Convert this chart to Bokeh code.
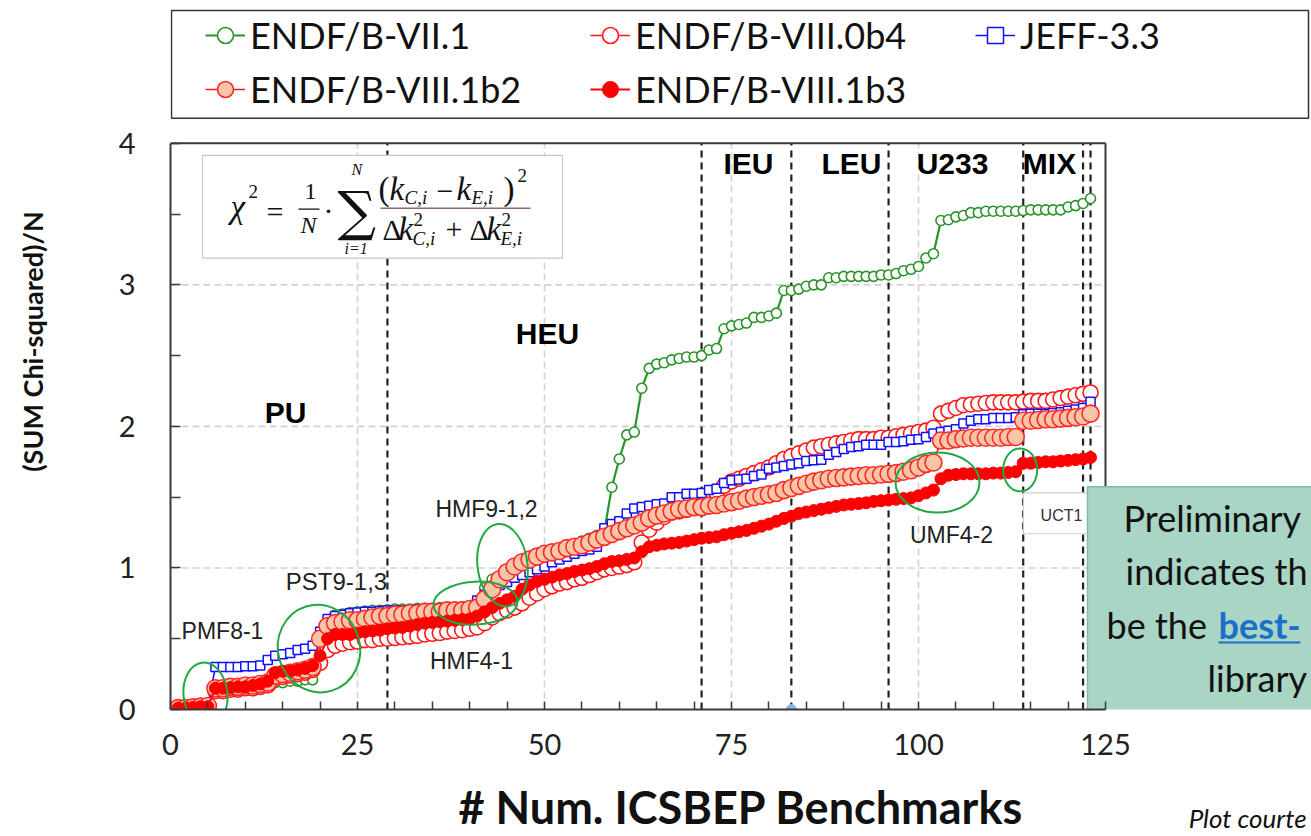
from bokeh.plotting import figure
from bokeh.models import Range1d, FixedTicker, Legend, LegendItem, LinearAxis
from bokeh.core.properties import value
from bokeh.embed import file_html
from bokeh.resources import INLINE

# ---------------- data ----------------
benchmarks = list(range(1, 124))

endf_vii1 = [0.01, 0.01, 0.015, 0.02, 0.02,
             0.14, 0.145, 0.15, 0.15, 0.155, 0.16, 0.165, 0.17,
             0.19, 0.19, 0.20, 0.20, 0.21, 0.21,
             0.40, 0.60,
             0.665, 0.675, 0.685, 0.69, 0.695, 0.70, 0.70, 0.705, 0.71, 0.71, 0.71, 0.715, 0.715, 0.715, 0.72, 0.72, 0.72, 0.725, 0.73, 0.77,
             0.86, 0.92, 0.94,
             0.99, 1.02, 1.04, 1.06, 1.08, 1.10, 1.12, 1.13, 1.15, 1.17, 1.19, 1.21, 1.23, 1.26,
             1.57, 1.77, 1.94, 1.96, 2.27, 2.41,
             2.44, 2.45, 2.47, 2.48, 2.49, 2.49, 2.50, 2.54, 2.55,
             2.69, 2.71, 2.72, 2.73, 2.77, 2.77, 2.78, 2.80,
             2.96, 2.96, 2.97, 2.99, 3.00, 3.00,
             3.05, 3.05, 3.06, 3.06, 3.06, 3.06, 3.06, 3.07, 3.07, 3.08, 3.10, 3.11, 3.13, 3.19, 3.22,
             3.455, 3.46, 3.48, 3.49, 3.51, 3.51, 3.52, 3.52, 3.52, 3.52, 3.52, 3.525, 3.53, 3.53, 3.53, 3.53, 3.53, 3.55, 3.56, 3.575, 3.61]

endf_viii0b4 = [0.01, 0.01, 0.015, 0.02, 0.025,
                0.13, 0.13, 0.14, 0.14, 0.15, 0.15, 0.16, 0.17, 0.22, 0.23, 0.24, 0.25, 0.26, 0.28,
                0.33, 0.42, 0.45, 0.465, 0.475, 0.48,
                0.49, 0.49, 0.50, 0.50, 0.505, 0.51, 0.515, 0.52, 0.53, 0.535, 0.54, 0.55, 0.555, 0.56, 0.57, 0.58,
                0.61, 0.65, 0.68, 0.70, 0.72, 0.75, 0.79, 0.82, 0.85, 0.87, 0.89, 0.90, 0.92, 0.93, 0.95, 0.97, 0.99, 1.00, 1.01, 1.02, 1.04,
                1.18, 1.27, 1.32, 1.36, 1.39, 1.40, 1.41, 1.43, 1.46, 1.50, 1.53, 1.58, 1.61, 1.63, 1.65, 1.67, 1.69, 1.71, 1.74, 1.77, 1.79, 1.81, 1.83, 1.85, 1.86, 1.87, 1.88, 1.89,
                1.90, 1.91, 1.91, 1.91, 1.92, 1.92, 1.93, 1.94, 1.95, 1.96, 1.97, 1.99, 2.09, 2.11, 2.13, 2.15, 2.155, 2.16, 2.165, 2.17, 2.17, 2.17, 2.17, 2.175, 2.18, 2.18, 2.18, 2.19, 2.20, 2.21, 2.22, 2.23, 2.24]

jeff33 = [0.01, 0.01, 0.015, 0.02, 0.025,
          0.30, 0.30, 0.30, 0.30, 0.305, 0.305, 0.31,
          0.35, 0.38, 0.39, 0.40, 0.42, 0.43, 0.45, 0.55,
          0.64, 0.66, 0.67, 0.68, 0.685, 0.69, 0.69, 0.695, 0.70, 0.70, 0.70, 0.70, 0.705, 0.705, 0.705, 0.71, 0.71, 0.71, 0.715, 0.72,
          0.77, 0.81, 0.86, 0.88, 0.90, 0.93, 0.95, 0.97, 0.99, 1.01, 1.04, 1.06, 1.08, 1.10, 1.12, 1.13, 1.15, 1.28,
          1.31, 1.33, 1.385, 1.42, 1.43, 1.44, 1.45, 1.455, 1.50, 1.50, 1.525, 1.525, 1.53, 1.55, 1.56, 1.60, 1.62, 1.625, 1.63, 1.65, 1.66, 1.70, 1.71, 1.72, 1.73, 1.74, 1.755, 1.76, 1.765, 1.80, 1.82, 1.84,
          1.855, 1.86, 1.87, 1.87, 1.87, 1.89, 1.89, 1.895, 1.905, 1.91, 1.925, 1.95, 1.96, 1.97, 1.98, 2.02, 2.04, 2.05, 2.05, 2.06, 2.06, 2.06, 2.065, 2.085, 2.09, 2.09, 2.09, 2.095, 2.10, 2.11, 2.12, 2.13, 2.175]

endf_viii1b2 = [0.01, 0.01, 0.015, 0.02, 0.025,
                0.15, 0.15, 0.16, 0.16, 0.17, 0.17, 0.18, 0.19, 0.24, 0.25, 0.26, 0.27, 0.28, 0.30,
                0.50, 0.59, 0.61, 0.62, 0.63, 0.63, 0.64, 0.65, 0.66, 0.66, 0.67, 0.67, 0.68, 0.68, 0.69, 0.69, 0.69, 0.70, 0.70, 0.70, 0.71, 0.72,
                0.78, 0.85, 0.92, 0.97, 1.01, 1.04, 1.06, 1.08, 1.10, 1.11, 1.12, 1.14, 1.15, 1.16, 1.18, 1.20, 1.22,
                1.24, 1.26, 1.28, 1.30, 1.32, 1.35, 1.37, 1.385, 1.40, 1.415, 1.42, 1.43, 1.43, 1.44, 1.445, 1.455, 1.465, 1.475, 1.49, 1.50,
                1.51, 1.52, 1.53, 1.55, 1.565, 1.58, 1.595, 1.61, 1.62, 1.63, 1.635, 1.64, 1.645, 1.65, 1.655, 1.655, 1.66, 1.665, 1.67, 1.68,
                1.69, 1.71, 1.735, 1.745,
                1.90, 1.90, 1.91, 1.915, 1.92, 1.92, 1.92, 1.92, 1.92, 1.925, 1.925, 2.04, 2.04, 2.045, 2.05, 2.05, 2.055, 2.06, 2.065, 2.07, 2.09]

endf_viii1b3 = [0.01, 0.01, 0.015, 0.02, 0.02,
                0.15, 0.15, 0.155, 0.16, 0.16, 0.17, 0.18, 0.20, 0.26, 0.27, 0.27, 0.28, 0.29, 0.31, 0.38, 0.50, 0.53, 0.53, 0.53, 0.54,
                0.55, 0.555, 0.56, 0.57, 0.575, 0.58, 0.59, 0.60, 0.61, 0.615, 0.62, 0.625, 0.63, 0.635, 0.64, 0.66, 0.69, 0.72, 0.75, 0.775,
                0.80, 0.85, 0.88, 0.905, 0.92, 0.935, 0.95, 0.96, 0.975, 0.985, 0.995, 1.01, 1.03, 1.045, 1.05, 1.06, 1.07,
                1.115, 1.15, 1.16, 1.17, 1.175, 1.18, 1.19, 1.20, 1.21, 1.215, 1.22, 1.235, 1.245, 1.255, 1.265, 1.28, 1.295, 1.31, 1.33, 1.35,
                1.365, 1.385, 1.395, 1.405, 1.415, 1.425, 1.435, 1.445, 1.45, 1.455, 1.46, 1.47, 1.475, 1.48, 1.485, 1.49, 1.495, 1.51, 1.53, 1.55,
                1.63, 1.655, 1.66, 1.665, 1.665, 1.665, 1.665, 1.67, 1.67, 1.675, 1.68, 1.74, 1.74, 1.745, 1.75, 1.75, 1.755, 1.76, 1.765, 1.77, 1.78]

x_ticks = [0, 25, 50, 75, 100, 125]
x_minor_ticks = [5, 10, 15, 20, 30, 35, 40, 45, 55, 60, 65, 70, 80, 85, 90, 95, 105, 110, 115, 120]
y_ticks = [0, 1, 2, 3, 4]
y_minor_ticks = [0.5, 1.5, 2.5, 3.5]
grid_x = [25, 50, 75, 100]
grid_y = [1, 2, 3]
region_bounds = [29, 71, 83, 96, 114, 122, 123]

x_title = "# Num. ICSBEP Benchmarks"
y_title = "(SUM Chi-squared)/N"
footer = "Plot courte"

# ---------------- pixel helpers (annotation placement) ----------------
X0, SX, Y0, SY = 170.0, 7.48, 710.0, 141.75
def dx(px):
    return (px - X0) / SX
def dy(py):
    return (Y0 - py) / SY

W, H = 1311, 836
p = figure(width=W, height=H, x_range=Range1d(0, (W - X0) / SX), y_range=Range1d(0, Y0 / SY),
           output_backend="svg", toolbar_location=None,
           min_border_left=170, min_border_right=0, min_border_top=0, min_border_bottom=126,
           outline_line_color=None, background_fill_color="white", border_fill_color="white")
p.xgrid.visible = False
p.ygrid.visible = False

for ax in (p.xaxis[0], p.yaxis[0]):
    ax.axis_line_color = "#3a3a3a"
    ax.axis_line_width = 2
    ax.major_tick_line_color = "#3a3a3a"
    ax.minor_tick_line_color = "#3a3a3a"
    ax.major_tick_line_width = 1.5
    ax.minor_tick_line_width = 1.5
    ax.major_tick_out = 0
    ax.minor_tick_out = 0
    ax.major_label_text_font = "Lato"
    ax.major_label_text_font_size = "29px"
    ax.major_label_text_color = "#222222"

xa = p.xaxis[0]
xa.bounds = (0, 125)
xa.ticker = FixedTicker(ticks=x_ticks, minor_ticks=x_minor_ticks)
xa.major_tick_in = 8
xa.minor_tick_in = 8
xa.major_label_standoff = 24

ya = p.yaxis[0]
ya.bounds = (0, 4)
ya.ticker = FixedTicker(ticks=y_ticks, minor_ticks=y_minor_ticks)
ya.major_tick_in = 10
ya.minor_tick_in = 10
ya.major_label_standoff = 35

# outer title axes (positioned like the slide's titles)
YT = 2.6
ya2 = LinearAxis(ticker=FixedTicker(ticks=[YT], minor_ticks=[]),
                 major_label_overrides={YT: y_title}, major_label_orientation="vertical",
                 axis_line_color=None, major_tick_line_color=None, minor_tick_line_color=None,
                 major_label_standoff=60, major_label_text_font="Lato",
                 major_label_text_font_style="bold", major_label_text_font_size="27px",
                 major_label_text_color="#111111")
p.add_layout(ya2, "left")

XT = 144
xa2 = LinearAxis(ticker=FixedTicker(ticks=[XT], minor_ticks=[]),
                 major_label_overrides={XT: footer},
                 axis_line_color=None, major_tick_line_color=None, minor_tick_line_color=None,
                 major_label_standoff=38, major_label_text_font="Lato",
                 major_label_text_font_style="italic", major_label_text_font_size="26px",
                 major_label_text_color="#111111",
                 axis_label=x_title, axis_label_standoff=-57, axis_label_text_font="Lato",
                 axis_label_text_font_style="bold", axis_label_text_font_size="45px",
                 axis_label_text_color="#111111")
p.add_layout(xa2, "below")

# grid lines (light dashed)
p.segment(x0=grid_x, y0=[0] * len(grid_x), x1=grid_x, y1=[4] * len(grid_x),
          line_color="#d2d2d2", line_width=1.6, line_dash="7 4")
p.segment(x0=[0] * len(grid_y), y0=grid_y, x1=[125] * len(grid_y), y1=grid_y,
          line_color="#d2d2d2", line_width=1.6, line_dash="7 4")

# region separators
p.segment(x0=region_bounds, y0=[0] * len(region_bounds), x1=region_bounds, y1=[4] * len(region_bounds),
          line_color="#222222", line_width=2.2, line_dash="7 5")

# frame border (top / right)
p.segment(x0=[0, 125], y0=[4, 0], x1=[125, 125], y1=[4, 4], line_color="#3a3a3a", line_width=2)

# formula box
p.quad(left=[dx(202)], right=[dx(562)], top=[dy(155)], bottom=[dy(258)],
       fill_color="white", line_color="#c8c8c8", line_width=1.2)
# UCT1 box
p.quad(left=[dx(1023)], right=[dx(1100)], top=[dy(493)], bottom=[dy(534)],
       fill_color="white", line_color="#cfcfcf", line_width=1.2)

# ---------------- series (legend order = drawing order) ----------------
l_g = p.line(benchmarks, endf_vii1, line_color="#2a932a", line_width=2.2)
s_g = p.scatter(benchmarks, endf_vii1, marker="circle", size=10, fill_color="white",
                line_color="#2a932a", line_width=1.6)
l_b4 = p.line(benchmarks, endf_viii0b4, line_color="#ff1a1a", line_width=1.6)
s_b4 = p.scatter(benchmarks, endf_viii0b4, marker="circle", size=15, fill_color="white",
                 line_color="#ff1a1a", line_width=1.6)
l_j = p.line(benchmarks, jeff33, line_color="#1010ff", line_width=1.6)
s_j = p.scatter(benchmarks, jeff33, marker="square", size=9, fill_color="white",
                line_color="#1010ff", line_width=1.5)
l_b2 = p.line(benchmarks, endf_viii1b2, line_color="#ff1a1a", line_width=1.6)
s_b2 = p.scatter(benchmarks, endf_viii1b2, marker="circle", size=17, fill_color="#f8c6a6",
                 line_color="#ff2a2a", line_width=1.6)
l_b3 = p.line(benchmarks, endf_viii1b3, line_color="#ff0000", line_width=1.8)
s_b3 = p.scatter(benchmarks, endf_viii1b3, marker="circle", size=12, fill_color="#ff0000",
                 line_color="#ff0000", line_width=1)

# highlight ellipses (screen-sized)
ell_x = [dx(205), dx(318.5), dx(475), dx(502), dx(937), dx(1019.7)]
ell_y = [dy(695), dy(649), dy(603.5), dy(565.5), dy(482.7), dy(470)]
ell_w = [44, 82, 84, 50, 84, 34]
ell_h = [64, 88, 43, 83, 60, 43]
ell_a = [0.1, 0.3, 0.05, 0.12, 0.0, 0.0]
p.ellipse(x=ell_x, y=ell_y, width=ell_w, height=ell_h, angle=ell_a,
          width_units="screen", height_units="screen",
          fill_alpha=0, line_color="#22a845", line_width=2)

# region names
reg_names = ["PU", "HEU", "IEU", "LEU", "U233", "MIX"]
reg_px = [(285, 413), (547, 333), (748, 163), (851, 163), (952, 163), (1049, 163)]
p.text(x=[dx(a) for a, b in reg_px], y=[dy(b) for a, b in reg_px], text=reg_names,
       text_font=value("Liberation Sans"), text_font_style="bold", text_font_size="30px",
       text_align="center", text_baseline="middle", text_color="#000000")

# benchmark annotations
ann_names = ["PMF8-1", "PST9-1,3", "HMF9-1,2", "HMF4-1", "UMF4-2"]
ann_px = [(222, 631), (336, 582), (486, 509), (471, 661), (951, 535)]
ann_sz = ["23px", "24px", "23px", "23px", "23px"]
for t, (a, b), s in zip(ann_names, ann_px, ann_sz):
    p.text(x=[dx(a)], y=[dy(b)], text=[t], text_font=value("Liberation Sans"), text_font_size=s,
           text_align="center", text_baseline="middle", text_color="#222222")
p.text(x=[dx(1061)], y=[dy(516)], text=["UCT1"], text_font=value("Liberation Sans"),
       text_font_size="16px", text_align="center", text_baseline="middle", text_color="#333333")

# formula  (text, left px, centre py, size, font, style)
SERIF = "Liberation Serif"
formula = [
    ("χ", 230, 207, 33, SERIF, "italic"),
    ("2", 248, 191, 19, SERIF, "normal"),
    ("=", 266, 211, 30, SERIF, "normal"),
    ("1", 304, 191, 24, SERIF, "normal"),
    ("N", 300, 225, 24, SERIF, "italic"),
    ("·", 323, 210, 30, SERIF, "normal"),
    ("∑", 337, 211, 54, "DejaVu Serif", "normal"),
    ("N", 351, 169, 16, SERIF, "italic"),
    ("i=1", 344, 248, 16, SERIF, "italic"),
    ("(", 378, 189, 33, SERIF, "normal"),
    ("k", 389, 189, 33, SERIF, "italic"),
    ("C,i", 404, 197, 19, SERIF, "italic"),
    ("−", 436, 191, 30, SERIF, "normal"),
    ("k", 456, 189, 33, SERIF, "italic"),
    ("E,i", 471, 197, 19, SERIF, "italic"),
    (")", 503, 189, 33, SERIF, "normal"),
    ("2", 517, 175, 19, SERIF, "normal"),
    ("Δ", 382, 229, 30, SERIF, "normal"),
    ("k", 398, 229, 33, SERIF, "italic"),
    ("2", 413, 219, 19, SERIF, "normal"),
    ("C,i", 412, 238, 19, SERIF, "italic"),
    ("+", 445, 229, 30, SERIF, "normal"),
    ("Δ", 469, 229, 30, SERIF, "normal"),
    ("k", 486, 229, 33, SERIF, "italic"),
    ("2", 501, 219, 19, SERIF, "normal"),
    ("E,i", 500, 238, 19, SERIF, "italic"),
]
for t, a, b, s, f, st in formula:
    p.text(x=[dx(a)], y=[dy(b)], text=[t], text_font=value(f), text_font_style=st,
           text_font_size=f"{s}px", text_align="left", text_baseline="middle", text_color="#111111")
p.segment(x0=[dx(298)], y0=[dy(209)], x1=[dx(319)], y1=[dy(209)], line_color="#111111", line_width=1.3)
p.segment(x0=[dx(380)], y0=[dy(208)], x1=[dx(530)], y1=[dy(208)], line_color="#8c6a6a", line_width=1.5)

# note box on the right (slide overlay)
p.quad(left=[dx(1087)], right=[dx(1325)], top=[dy(487)], bottom=[dy(713)],
       fill_color="#a9d5c4", line_color="#7dbfa6", line_width=1.5)
note = [("Preliminary", 1123, 518, "normal", "#111111"),
        ("indicates th", 1125, 571, "normal", "#111111"),
        ("be the", 1106, 625, "normal", "#111111"),
        ("best-", 1218, 625, "bold", "#1a6fc9"),
        ("library", 1207, 678, "normal", "#111111")]
for t, a, b, st, c in note:
    p.text(x=[dx(a)], y=[dy(b)], text=[t], text_font=value("Lato"), text_font_style=st,
           text_font_size="36px", text_align="left", text_baseline="middle", text_color=c)
p.segment(x0=[dx(1218)], y0=[dy(643)], x1=[dx(1300)], y1=[dy(643)], line_color="#1a6fc9", line_width=2)

# blue marker dot on axis
p.scatter([83], [0], size=10, color="#8db4e2")

# legend box and legend
p.quad(left=[dx(171)], right=[dx(1308)], top=[dy(10)], bottom=[dy(118)],
       fill_color="white", line_color="#333333", line_width=1.5)
legend = Legend(items=[
    LegendItem(label="ENDF/B-VII.1", renderers=[l_g, s_g]),
    LegendItem(label="ENDF/B-VIII.0b4", renderers=[l_b4, s_b4]),
    LegendItem(label="JEFF-3.3", renderers=[l_j, s_j]),
    LegendItem(label="ENDF/B-VIII.1b2", renderers=[l_b2, s_b2]),
    LegendItem(label="ENDF/B-VIII.1b3", renderers=[l_b3, s_b3]),
], location=(35, 598), orientation="horizontal", ncols=3)
legend.padding = 0
legend.margin = 0
legend.spacing = 10
legend.glyph_width = 40
legend.glyph_height = 40
legend.label_height = 40
legend.label_width = 330
legend.label_standoff = 5
legend.label_text_font = "Lato"
legend.label_text_font_size = "36px"
legend.label_text_color = "#111111"
legend.border_line_alpha = 0
legend.background_fill_alpha = 0
p.add_layout(legend)

open("out.html", "w").write(file_html(p, INLINE))
